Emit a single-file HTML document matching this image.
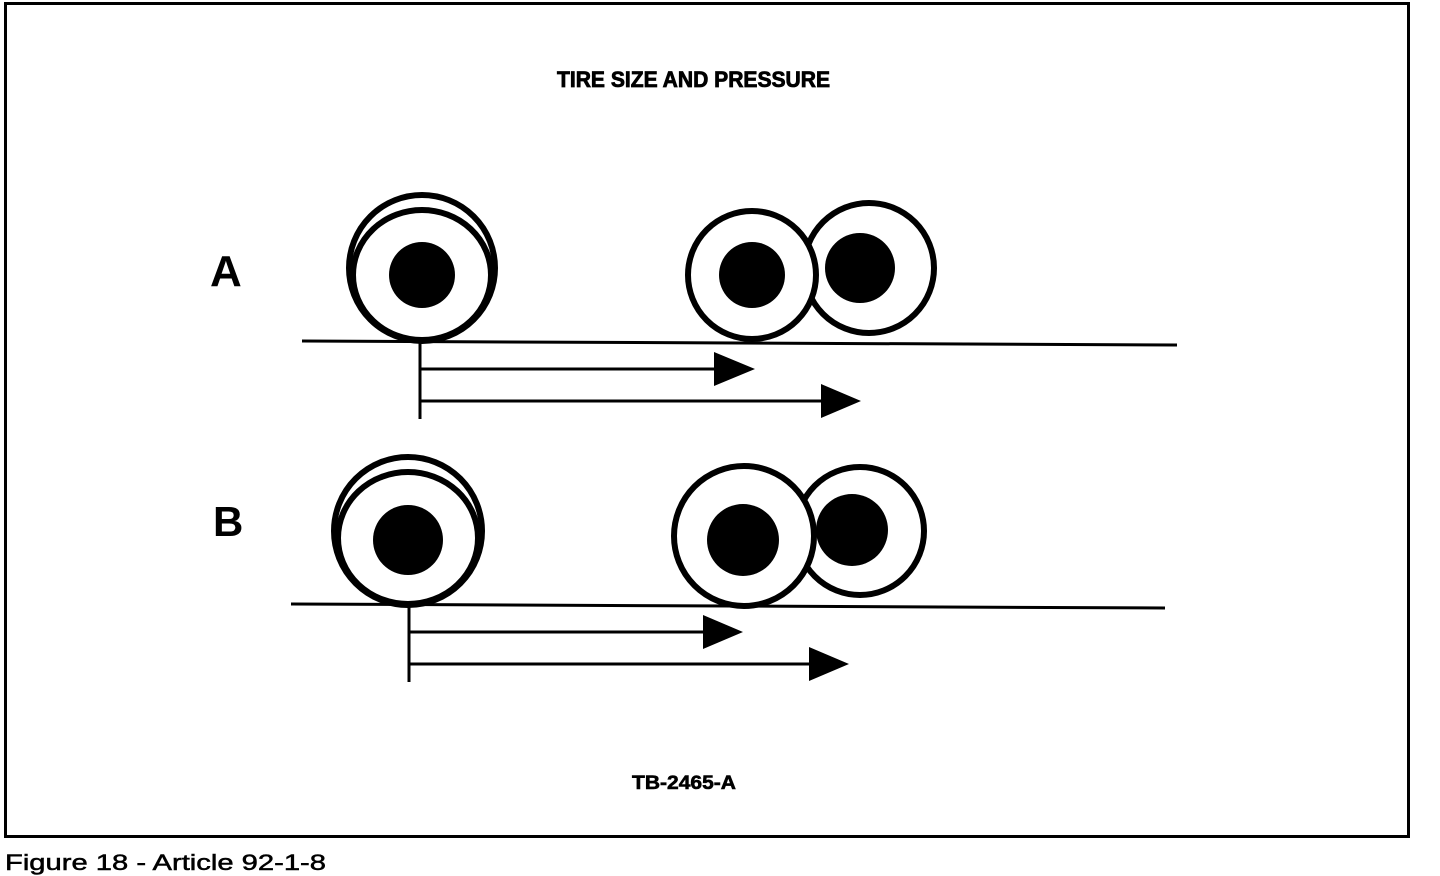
<!DOCTYPE html>
<html><head><meta charset="utf-8"><style>
html,body{margin:0;padding:0;background:#fff;width:1440px;height:876px;overflow:hidden}
svg{display:block}
text{font-family:"Liberation Sans",sans-serif;font-weight:bold;fill:#000}
</style></head><body>
<svg width="1440" height="876" viewBox="0 0 1440 876">
<rect x="5.5" y="3.5" width="1403" height="833" fill="none" stroke="#000" stroke-width="3"/>
<text x="557" y="87" font-size="22" stroke="#000" stroke-width="0.8" textLength="273" lengthAdjust="spacingAndGlyphs">TIRE SIZE AND PRESSURE</text>
<text x="210" y="286" font-size="44">A</text>
<text x="213" y="536" font-size="42">B</text>
<text x="632" y="789" font-size="19" stroke="#000" stroke-width="0.6" textLength="104" lengthAdjust="spacingAndGlyphs">TB-2465-A</text>
<text x="5" y="870" font-size="22" style="font-weight:normal" stroke="#000" stroke-width="0.5" textLength="321" lengthAdjust="spacingAndGlyphs">Figure 18 - Article 92-1-8</text>
<g fill="#fff" stroke="#000" stroke-width="6">
<circle cx="422" cy="268" r="73"/>
<ellipse cx="422" cy="275" rx="69" ry="65"/>
<circle cx="869" cy="268" r="65"/>
<circle cx="752" cy="275" r="64"/>
<circle cx="408" cy="531" r="74"/>
<ellipse cx="408" cy="538" rx="70" ry="66"/>
<circle cx="860" cy="531" r="64"/>
<circle cx="744" cy="536" r="70"/>
</g>
<g fill="#000">
<circle cx="422" cy="275" r="33"/>
<circle cx="752" cy="275" r="33"/>
<circle cx="860" cy="268" r="35"/>
<circle cx="408" cy="540" r="35"/>
<circle cx="743" cy="540" r="36"/>
<circle cx="852" cy="530" r="36"/>
</g>
<g stroke="#000" stroke-width="3" fill="none">
<line x1="302" y1="341" x2="1177" y2="345"/>
<line x1="420" y1="341" x2="420" y2="419"/>
<line x1="420" y1="369" x2="716" y2="369"/>
<line x1="420" y1="401" x2="822" y2="401"/>
<line x1="291" y1="604" x2="1165" y2="608"/>
<line x1="409" y1="604" x2="409" y2="682"/>
<line x1="409" y1="632" x2="704" y2="632"/>
<line x1="409" y1="664" x2="810" y2="664"/>
</g>
<g fill="#000">
<polygon points="714,352 755,369 714,386"/>
<polygon points="821,384 861,401 821,418"/>
<polygon points="703,615 743,632 703,649"/>
<polygon points="809,647 849,664 809,681"/>
</g>
</svg>
</body></html>
